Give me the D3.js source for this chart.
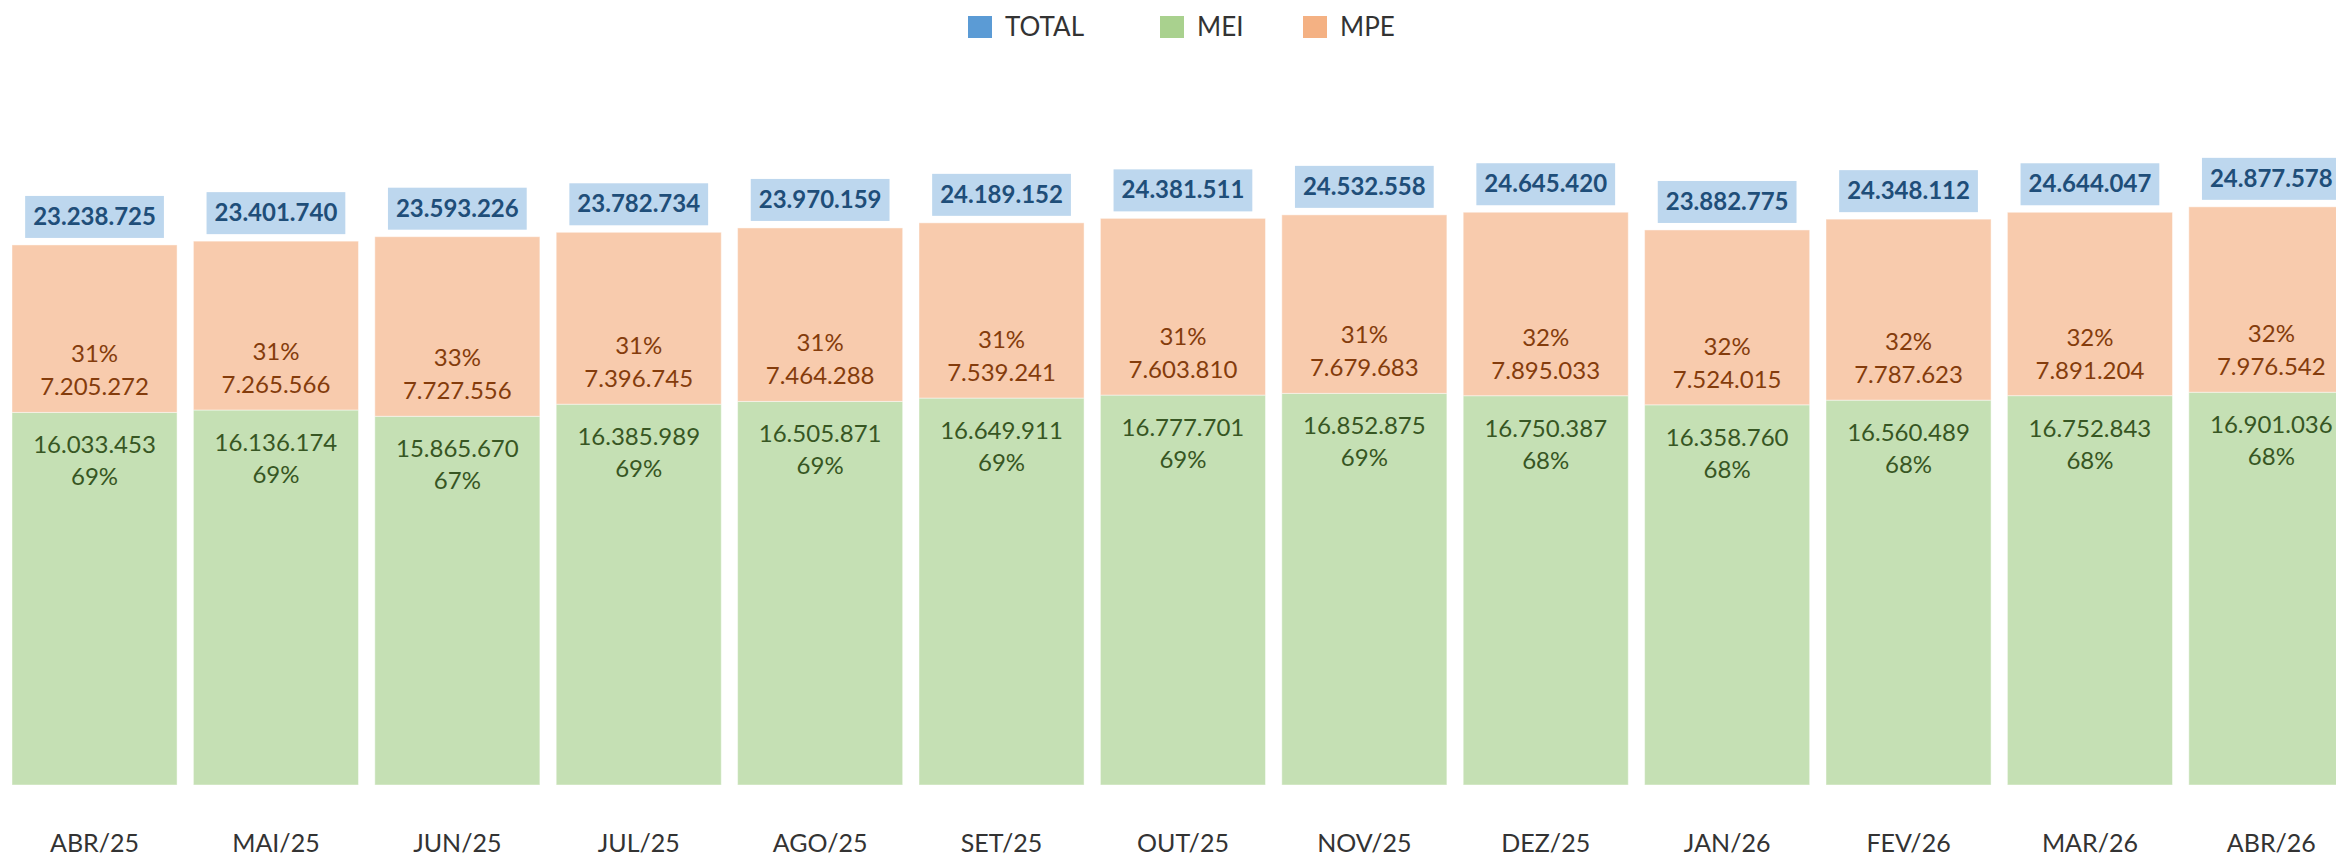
<!DOCTYPE html>
<html>
<head>
<meta charset="utf-8">
<script src="https://cdn.jsdelivr.net/npm/d3@7"></script>
<style>
  html, body { margin: 0; padding: 0; background: #fff; }
  svg { display: block; font-family: Lato, "Open Sans", sans-serif; }
</style>
</head>
<body>
<div id="chart"></div>
<script>
const months = ["ABR/25", "MAI/25", "JUN/25", "JUL/25", "AGO/25", "SET/25", "OUT/25",
                "NOV/25", "DEZ/25", "JAN/26", "FEV/26", "MAR/26", "ABR/26"];
const mei = [16033453, 16136174, 15865670, 16385989, 16505871, 16649911, 16777701,
             16852875, 16750387, 16358760, 16560489, 16752843, 16901036];
const mpe = [7205272, 7265566, 7727556, 7396745, 7464288, 7539241, 7603810,
             7679683, 7895033, 7524015, 7787623, 7891204, 7976542];
const total = [23238725, 23401740, 23593226, 23782734, 23970159, 24189152, 24381511,
               24532558, 24645420, 23882775, 24348112, 24644047, 24877578];
const legendItems = ["TOTAL", "MEI", "MPE"];

const width = 2336, height = 860;
const colors = {
    totalBox: '#BDD7EE', totalText: '#1F4E79',
    mei: '#C5E0B4', meiText: '#375623',
    mpe: '#F8CBAD', mpeText: '#843C0C',
    legend: { TOTAL: '#5B9BD5', MEI: '#A9D18E', MPE: '#F4B183' }
};

const locale = d3.formatLocale({ decimal: ",", thousands: ".", grouping: [3], currency: ["", ""] });
const fmt = locale.format(",d");

const data = months.map((m, i) => ({
    month: m, mei: mei[i], mpe: mpe[i], total: total[i],
    mpePct: Math.round(mpe[i] / total[i] * 100)
}));
data.forEach(d => { d.meiPct = 100 - d.mpePct; });

const svg = d3.select('#chart').append('svg')
    .attr('width', width)
    .attr('height', height);

// scales: the plot runs past the right edge, like the original
const step = 181.4;
const x = d3.scaleBand()
    .domain(months)
    .range([12 - 0.045 * step, 12 - 0.045 * step + months.length * step])
    .paddingInner(0.09)
    .paddingOuter(0.045);
const y = d3.scaleLinear()
    .domain([0, 30000000])
    .range([785, 785 - 30 * 23.24]);

const stack = d3.stack().keys(['mei', 'mpe']);
const series = stack(data);

const bars = svg.append('g');
bars.selectAll('g')
    .data(series)
    .join('g')
    .attr('fill', s => colors[s.key])
    .selectAll('rect')
    .data(s => s)
    .join('rect')
    .attr('x', d => x(d.data.month))
    .attr('width', x.bandwidth())
    .attr('y', d => y(d[1]))
    .attr('height', d => y(d[0]) - y(d[1]))
    .attr('stroke', 'rgba(255,255,255,0.45)')
    .attr('stroke-width', 1);

const cx = d => x(d.month) + x.bandwidth() / 2;

// MPE labels
const mpeLab = svg.append('g')
    .attr('font-size', 24)
    .attr('fill', colors.mpeText)
    .attr('text-anchor', 'middle');
mpeLab.selectAll('text.pct')
    .data(data).join('text').attr('class', 'pct')
    .attr('x', cx)
    .attr('y', d => y(d.mei) - 50)
    .text(d => d.mpePct + '%');
mpeLab.selectAll('text.val')
    .data(data).join('text').attr('class', 'val')
    .attr('x', cx)
    .attr('y', d => y(d.mei) - 17)
    .text(d => fmt(d.mpe));

// MEI labels
const meiLab = svg.append('g')
    .attr('font-size', 24)
    .attr('fill', colors.meiText)
    .attr('text-anchor', 'middle');
meiLab.selectAll('text.val')
    .data(data).join('text').attr('class', 'val')
    .attr('x', cx)
    .attr('y', d => y(d.mei) + 41)
    .text(d => fmt(d.mei));
meiLab.selectAll('text.pct')
    .data(data).join('text').attr('class', 'pct')
    .attr('x', cx)
    .attr('y', d => y(d.mei) + 73)
    .text(d => d.meiPct + '%');

// TOTAL labels in boxes
const totLab = svg.append('g').selectAll('g')
    .data(data).join('g');
totLab.append('rect')
    .attr('fill', colors.totalBox);
totLab.append('text')
    .attr('x', cx)
    .attr('y', d => y(d.total) - 20)
    .attr('text-anchor', 'middle')
    .attr('font-size', 24)
    .attr('font-weight', 'bold')
    .attr('fill', colors.totalText)
    .text(d => fmt(d.total));
totLab.each(function(d) {
    const g = d3.select(this);
    const w = g.select('text').node().getComputedTextLength() + 16;
    g.select('rect')
        .attr('x', cx(d) - w / 2)
        .attr('width', w)
        .attr('y', y(d.total) - 49)
        .attr('height', 42);
});

// x axis labels
const xAxis = svg.append('g')
    .attr('transform', 'translate(0,852)')
    .call(d3.axisBottom(x).tickSize(0).tickPadding(0));
xAxis.select('.domain').remove();
xAxis.selectAll('text')
    .attr('dy', 0)
    .attr('font-size', 25)
    .attr('font-family', 'Lato, "Open Sans", sans-serif')
    .attr('fill', '#333');

// legend
const legendX = [968, 1160, 1303];
const legend = svg.append('g').selectAll('g')
    .data(legendItems).join('g')
    .attr('transform', (d, i) => `translate(${legendX[i]},16)`);
legend.append('rect')
    .attr('width', 24)
    .attr('height', 22)
    .attr('fill', d => colors.legend[d]);
legend.append('text')
    .attr('x', 37)
    .attr('y', 20)
    .attr('font-size', 26)
    .attr('fill', '#333')
    .text(d => d);
</script>
</body>
</html>
